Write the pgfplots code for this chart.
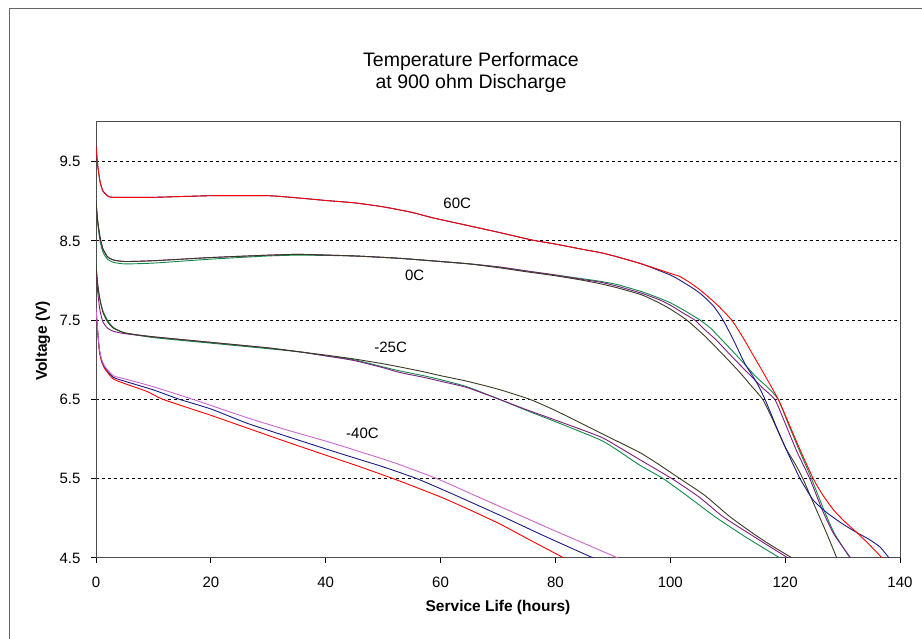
\documentclass[border=0pt]{standalone}
\usepackage{fontspec}
\setmainfont{Liberation Sans}
\usepackage{pgfplots}
\pgfplotsset{compat=1.18}

\definecolor{cred}{HTML}{FF0000}
\definecolor{cnavy}{HTML}{1A1A80}
\definecolor{cgreen}{HTML}{108A48}
\definecolor{cpurple}{HTML}{801A80}
\definecolor{colive}{HTML}{3A3A22}
\definecolor{cpink}{HTML}{CC66CC}

\begin{document}
\begin{tikzpicture}
\useasboundingbox (0pt,0pt) rectangle (922pt,639pt);
% outer chart frame (only left and top visible)
\draw[black!60, line width=1pt] (9pt,0pt) -- (9pt,630pt) -- (922pt,630pt);

\node[anchor=base, font=\fontsize{19.5}{22}\selectfont] at (471pt,572.5pt) {Temperature Performace};
\node[anchor=base, font=\fontsize{19.5}{22}\selectfont] at (471pt,550pt) {at 900 ohm Discharge};
\node[rotate=90, font=\bfseries\fontsize{15.5}{18}\selectfont] at (43pt,298pt) {Voltage (V)};
\node[anchor=base, font=\bfseries\fontsize{15.5}{18}\selectfont] at (498pt,27pt) {Service Life (hours)};

\begin{axis}[
    at={(96pt,81pt)}, anchor=south west,
    width=804pt, height=436pt, scale only axis,
    xmin=0, xmax=140, ymin=4.5, ymax=10,
    xtick={0,20,...,140}, ytick={5.5,6.5,7.5,8.5,9.5},
    extra y ticks={4.5}, extra tick style={grid=none},
    tick pos=left, tick align=outside, major tick length=5pt,
    ymajorgrids,
    grid style={black, dash pattern=on 3pt off 3pt, line width=0.9pt},
    axis line style={black!70, line width=1pt},
    tick style={black, line width=1pt},
    ticklabel style={font=\fontsize{15}{18}\selectfont},
    /pgf/number format/assume math mode=true,
    yticklabel style={xshift=-7pt, /pgf/number format/.cd, fixed, fixed zerofill, precision=1},
    xticklabel style={yshift=-10pt},
    every axis plot/.append style={line width=0.9pt, smooth, tension=0.35},
]
% -40C
\addplot[cred] coordinates {(0,7.65)(0.3,7.35)(0.6,7.10)(1,6.97)(1.6,6.88)(3,6.76)(5,6.70)(8.9,6.60)(11.7,6.50)(20,6.30)(26.3,6.14)(33,5.97)(40.7,5.78)(46,5.65)(52.9,5.47)(60,5.27)(65,5.11)(70.3,4.93)(76,4.71)(81.5,4.50)};
\addplot[cnavy] coordinates {(0,7.65)(0.3,7.35)(0.6,7.12)(1,6.99)(1.6,6.90)(3,6.78)(5,6.73)(10,6.62)(14.6,6.50)(20,6.38)(26.3,6.20)(33,6.04)(40.7,5.86)(46,5.74)(50,5.65)(55.9,5.50)(62,5.31)(70.3,5.04)(78,4.78)(86.6,4.50)};
\addplot[cpink] coordinates {(0,7.65)(0.3,7.36)(0.6,7.13)(1,7.00)(1.6,6.91)(3,6.80)(5,6.76)(10,6.66)(16.9,6.50)(26.3,6.27)(33,6.12)(40.7,5.96)(46,5.84)(52,5.70)(59.4,5.50)(65,5.32)(70.3,5.15)(80,4.84)(90.9,4.50)};
% -25C
\addplot[cgreen] coordinates {(0,8.20)(0.3,7.95)(0.7,7.76)(1.2,7.62)(2,7.50)(3,7.41)(5,7.34)(10,7.28)(20,7.21)(30,7.14)(35.5,7.10)(40,7.05)(45,7.00)(50,6.91)(52.9,6.86)(57,6.80)(60,6.75)(64.6,6.66)(70.3,6.50)(75,6.36)(80,6.22)(87.8,5.99)(91,5.85)(94.7,5.67)(98.8,5.50)(103,5.28)(107.8,5.02)(113,4.77)(119.1,4.50)};
\addplot[cpurple] coordinates {(0,8.15)(0.3,7.85)(0.7,7.62)(1.2,7.48)(2,7.40)(3,7.36)(5,7.33)(10,7.29)(20,7.22)(30,7.15)(35.5,7.10)(40,7.05)(45,6.99)(50,6.90)(52.9,6.84)(57,6.78)(60,6.73)(64.6,6.65)(70.3,6.50)(75,6.37)(80,6.24)(87.8,6.03)(91,5.90)(94.7,5.74)(100.3,5.50)(105,5.27)(109.2,5.02)(115,4.75)(120.5,4.50)};
\addplot[colive] coordinates {(0,8.20)(0.3,7.95)(0.7,7.75)(1.2,7.60)(2,7.48)(3,7.40)(5,7.34)(10,7.29)(20,7.22)(30,7.15)(35.5,7.10)(40,7.06)(45,7.01)(50,6.95)(52.9,6.91)(57,6.85)(60,6.80)(64.6,6.73)(70,6.63)(75.6,6.50)(80,6.36)(85,6.18)(87.8,6.08)(90,6.00)(94.7,5.83)(98,5.68)(101.7,5.50)(106,5.29)(110.4,5.02)(115,4.78)(118,4.64)(121.2,4.50)};
% 0C
\addplot[cgreen] coordinates {(0,9.00)(0.3,8.72)(0.7,8.50)(1.2,8.36)(2,8.27)(3,8.23)(5,8.21)(10,8.22)(20,8.27)(30,8.31)(35.5,8.32)(45,8.31)(52.9,8.28)(60,8.24)(65,8.21)(70.3,8.17)(75,8.12)(80,8.07)(85,8.02)(87.8,7.99)(90.7,7.95)(95,7.86)(98,7.78)(100,7.72)(102.5,7.62)(105.2,7.50)(107,7.40)(109,7.25)(112,7.02)(115,6.78)(117,6.65)(118.8,6.50)(120.5,6.20)(122.5,5.85)(124.6,5.50)(126.5,5.15)(128.5,4.82)(131.3,4.50)};
\addplot[cpurple] coordinates {(0,9.00)(0.3,8.75)(0.7,8.55)(1.2,8.40)(2,8.30)(3,8.26)(5,8.24)(10,8.25)(20,8.29)(30,8.32)(35.5,8.33)(45,8.31)(52.9,8.28)(60,8.24)(65,8.21)(70.3,8.17)(75,8.12)(80,8.07)(85,8.01)(87.8,7.98)(90.7,7.93)(95,7.84)(98,7.76)(100,7.69)(102,7.60)(104.3,7.50)(106,7.38)(108,7.25)(111,7.02)(114,6.80)(116,6.65)(118.2,6.50)(120,6.20)(122,5.85)(124.3,5.50)(126.5,5.10)(128.5,4.80)(131.4,4.50)};
\addplot[colive] coordinates {(0,9.00)(0.3,8.75)(0.7,8.55)(1.2,8.40)(2,8.30)(3,8.26)(5,8.24)(10,8.25)(20,8.29)(30,8.32)(35.5,8.33)(45,8.31)(52.9,8.28)(60,8.24)(65,8.21)(70.3,8.16)(75,8.11)(80,8.06)(85,8.00)(87.8,7.96)(90.7,7.91)(95,7.82)(98,7.72)(100,7.64)(102.9,7.50)(106,7.30)(109,7.08)(112,6.85)(114,6.68)(116.1,6.50)(118,6.22)(120,5.90)(121.8,5.68)(123.1,5.50)(125,5.18)(127,4.85)(129,4.50)};
% 60C
\addplot[cnavy] coordinates {(0,9.70)(0.3,9.45)(0.7,9.25)(1.2,9.13)(2,9.07)(3,9.05)(10,9.05)(20,9.07)(30,9.07)(35.5,9.04)(40,9.01)(45,8.98)(50,8.93)(55,8.86)(58.7,8.79)(65,8.69)(70,8.61)(76,8.51)(80,8.46)(85,8.39)(88,8.35)(90.7,8.30)(95,8.21)(100,8.07)(102,7.99)(104,7.90)(105.5,7.82)(107.5,7.68)(109.2,7.50)(111,7.25)(113,6.95)(115,6.72)(116.5,6.50)(118.5,6.15)(120.5,5.82)(122.6,5.50)(124.9,5.23)(127.3,5.07)(130,4.93)(132.5,4.82)(134.5,4.74)(136.5,4.64)(138.1,4.50)};
\addplot[cred] coordinates {(0,9.70)(0.3,9.45)(0.7,9.25)(1.2,9.13)(2,9.07)(3,9.05)(10,9.05)(20,9.07)(30,9.07)(35.5,9.04)(40,9.01)(45,8.98)(50,8.93)(55,8.86)(58.7,8.79)(65,8.69)(70,8.61)(76,8.51)(80,8.46)(85,8.39)(88,8.35)(90.7,8.30)(95,8.21)(100,8.09)(101.7,8.05)(103.5,7.97)(105.2,7.88)(107,7.77)(108.5,7.67)(110.7,7.50)(112.5,7.30)(114.5,7.05)(116.5,6.80)(118.8,6.50)(120.5,6.22)(122.5,5.88)(124.9,5.50)(126.5,5.30)(128.5,5.10)(130.5,4.95)(132.5,4.82)(134.5,4.68)(136.9,4.50)};

\node[font=\fontsize{15}{18}\selectfont] at (axis cs:62.9,8.98) {60C};
\node[font=\fontsize{15}{18}\selectfont] at (axis cs:55.5,8.06) {0C};
\node[font=\fontsize{15}{18}\selectfont] at (axis cs:51.3,7.16) {-25C};
\node[font=\fontsize{15}{18}\selectfont] at (axis cs:46.4,6.07) {-40C};
\end{axis}
\end{tikzpicture}
\end{document}
